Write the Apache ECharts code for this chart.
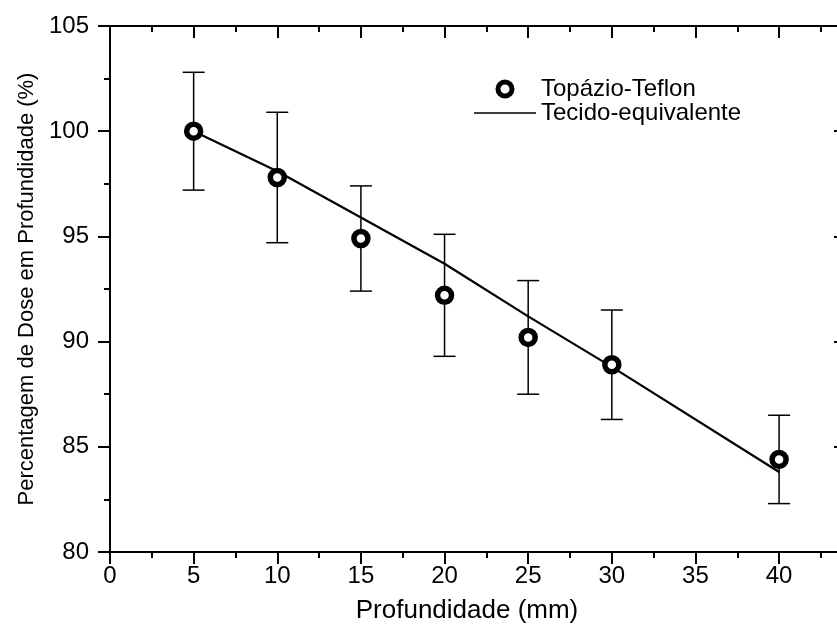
<!DOCTYPE html>
<html>
<head>
<meta charset="utf-8">
<script src="https://cdn.jsdelivr.net/npm/echarts@6/dist/echarts.min.js"></script>
<style>
  html, body { margin: 0; padding: 0; overflow: hidden; background: #ffffff; }
  #chart { width: 870px; height: 630px; }
</style>
</head>
<body>
<div id="chart"></div>
<script>
// Depth-dose data (depth in mm, dose in %)
const depth = [5, 10, 15, 20, 25, 30, 40];
const topazioTeflon = [100.0, 97.8, 94.9, 92.2, 90.2, 88.9, 84.4];
const topazioError = [2.8, 3.1, 2.5, 2.9, 2.7, 2.6, 2.1];
const tecidoEquivalente = [100.0, 98.1, 95.9, 93.7, 91.2, 88.8, 83.8];

// Axis ranges
const xRange = { min: 0, max: 44, major: 5, minor: 2.5 };
const yRange = { min: 80, max: 105, major: 5 };

const seriesNames = ['Topázio-Teflon', 'Tecido-equivalente'];
const xTitle = 'Profundidade (mm)';
const yTitle = 'Percentagem de Dose em Profundidade (%)';

const BLACK = '#000000';
const FONT = 'Liberation Sans, Arial, sans-serif';

function xAxisDef(position, interval, tickLen, inside, extra) {
  return Object.assign({
    type: 'value',
    position: position,
    min: xRange.min,
    max: xRange.max,
    interval: interval,
    axisLine: { show: true, onZero: false, lineStyle: { color: BLACK, width: 2 } },
    axisTick: { show: true, inside: inside, length: tickLen, lineStyle: { color: BLACK, width: 2 } },
    axisLabel: { show: false },
    splitLine: { show: false }
  }, extra || {});
}

function yAxisDef(position, inside, extra) {
  return Object.assign({
    type: 'value',
    position: position,
    min: yRange.min,
    max: yRange.max,
    interval: yRange.major,
    axisLine: { show: true, onZero: false, lineStyle: { color: BLACK, width: 2 } },
    axisTick: { show: true, inside: inside, length: 12, lineStyle: { color: BLACK, width: 2 } },
    minorTick: { show: true, splitNumber: 2, length: 6, lineStyle: { color: BLACK, width: 2 } },
    axisLabel: { show: false },
    splitLine: { show: false },
    minorSplitLine: { show: false }
  }, extra || {});
}

const chart = echarts.init(document.getElementById('chart'), null, { renderer: 'canvas' });

const option = {
  backgroundColor: '#ffffff',
  animation: false,
  grid: { left: 110, top: 26, width: 736, height: 526, containLabel: false },
  legend: {
    orient: 'vertical',
    left: 469,
    top: 72,
    itemWidth: 62,
    itemHeight: 14,
    itemGap: 0,
    selectedMode: false,
    textStyle: { fontFamily: FONT, fontSize: 24, color: BLACK, lineHeight: 19 },
    data: [
      {
        name: seriesNames[0],
        icon: 'circle',
        itemStyle: { color: '#ffffff', borderColor: BLACK, borderWidth: 5 }
      },
      {
        name: seriesNames[1],
        icon: 'path://M0,0H62V1.6H0Z',
        itemStyle: { color: BLACK, borderWidth: 0 }
      }
    ]
  },
  xAxis: [
    xAxisDef('bottom', xRange.major, 12, false, {
      axisLabel: {
        show: true, color: BLACK, fontFamily: FONT, fontSize: 24, margin: 12,
        showMaxLabel: false
      },
      name: xTitle,
      nameLocation: 'middle',
      nameGap: 46,
      nameTextStyle: { fontFamily: FONT, fontSize: 26, color: BLACK, padding: [0, 22, 0, 0] }
    }),
    xAxisDef('bottom', xRange.minor, 6, false, { axisLine: { show: false } }),
    xAxisDef('top', xRange.major, 12, true),
    xAxisDef('top', xRange.minor, 6, true, { axisLine: { show: false } })
  ],
  yAxis: [
    yAxisDef('left', false, {
      axisLabel: { show: true, color: BLACK, fontFamily: FONT, fontSize: 24, margin: 21 },
      name: yTitle,
      nameLocation: 'middle',
      nameGap: 62,
      nameTextStyle: { fontFamily: FONT, fontSize: 22, color: BLACK }
    }),
    yAxisDef('right', true)
  ],
  series: [
    {
      name: 'errorbars',
      type: 'custom',
      xAxisIndex: 0,
      yAxisIndex: 0,
      silent: true,
      z: 1,
      data: depth.map((d, i) => [d, topazioTeflon[i] - topazioError[i], topazioTeflon[i] + topazioError[i]]),
      encode: { x: 0, y: [1, 2] },
      renderItem: function (params, api) {
        const x = api.value(0);
        const lo = api.coord([x, api.value(1)]);
        const hi = api.coord([x, api.value(2)]);
        const half = 11;
        const style = { stroke: BLACK, lineWidth: 1.5, fill: null };
        return {
          type: 'group',
          children: [
            { type: 'line', shape: { x1: hi[0], y1: hi[1], x2: lo[0], y2: lo[1] }, style: style },
            { type: 'line', shape: { x1: hi[0] - half, y1: hi[1], x2: hi[0] + half, y2: hi[1] }, style: style },
            { type: 'line', shape: { x1: lo[0] - half, y1: lo[1], x2: lo[0] + half, y2: lo[1] }, style: style }
          ]
        };
      }
    },
    {
      name: seriesNames[1],
      type: 'line',
      xAxisIndex: 0,
      yAxisIndex: 0,
      z: 2,
      symbol: 'none',
      showSymbol: false,
      lineStyle: { color: BLACK, width: 2.2 },
      itemStyle: { color: BLACK },
      data: depth.map((d, i) => [d, tecidoEquivalente[i]])
    },
    {
      name: seriesNames[0],
      type: 'scatter',
      xAxisIndex: 0,
      yAxisIndex: 0,
      z: 3,
      symbol: 'circle',
      symbolSize: 14,
      itemStyle: { color: '#ffffff', borderColor: BLACK, borderWidth: 5.5, opacity: 1 },
      data: depth.map((d, i) => [d, topazioTeflon[i]])
    }
  ]
};

chart.setOption(option);
</script>
</body>
</html>
